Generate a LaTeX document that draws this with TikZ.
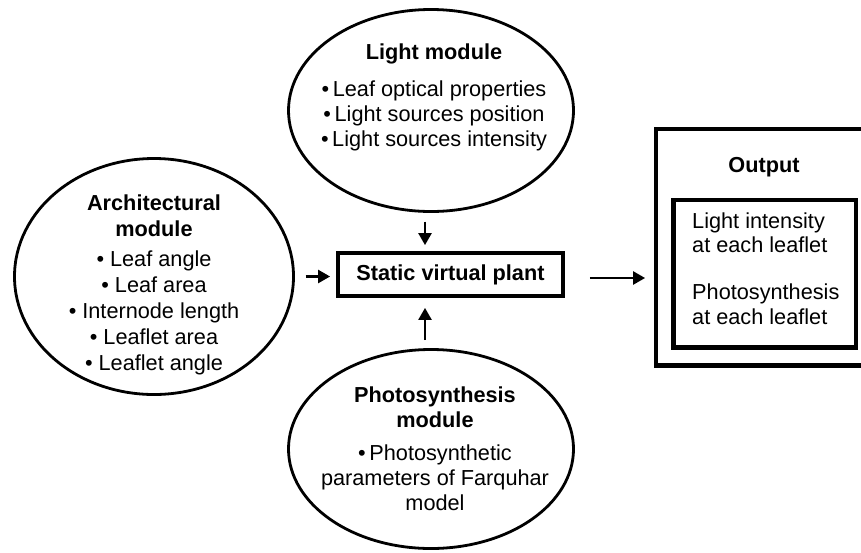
\documentclass[tikz,border=0pt]{standalone}
\usepackage{fontspec}
\setmainfont{Liberation Sans}
\usetikzlibrary{shapes.geometric,arrows.meta,calc}
\begin{document}
\begin{tikzpicture}[x=1pt,y=-1pt,
  ell/.style={draw, ellipse, line width=2.8pt, inner sep=0pt},
  txt/.style={align=center, font=\fontsize{21.7}{25}\selectfont, inner sep=0pt},
  boxy/.style={draw, rectangle, line width=4.8pt, inner sep=0pt},
  arr/.style={-{Triangle[length=12pt,width=13pt]}, line width=2.4pt}]
\useasboundingbox (0,0) rectangle (861,552);
% ellipses
\node[ell, minimum width=285pt, minimum height=202pt] (light) at (431,110.5) {};
\node[ell, minimum width=279pt, minimum height=236pt] (arch) at (154,276.5) {};
\node[ell, minimum width=285pt, minimum height=199pt] (photo) at (431,449) {};
% texts in ellipses
\node[txt, anchor=north] (lighttxt) at (434,44)
  {\textbf{Light module}\\[12pt]
   •\,Leaf optical properties\\
   •\,Light sources position\\
   •\,Light sources intensity};
\node[txt, anchor=north, font=\fontsize{21.7}{26}\selectfont] (archtxt) at (154,195)
  {\textbf{Architectural}\\
   \textbf{module}\\[4pt]
   • Leaf angle\\
   • Leaf area\\
   • Internode length\\
   • Leaflet area\\
   • Leaflet angle};
\node[txt, anchor=north] (phototxt) at (435,387)
  {\textbf{Photosynthesis}\\
   \textbf{module}\\[8pt]
   •\,Photosynthetic\\
   parameters of Farquhar\\
   model};
% central box
\node[boxy, minimum width=225pt, minimum height=43pt,
      font=\fontsize{21.7}{25}\selectfont\bfseries] (box) at (450.5,274.5) {Static virtual plant};
% output boxes
\node[boxy, minimum width=210pt, minimum height=236.5pt] (out) at (761,247.25) {};
\node[boxy, minimum width=182.5pt, minimum height=147.5pt] (inner) at (764.75,273.75) {};
\node[txt, font=\fontsize{21.7}{25}\selectfont\bfseries, anchor=base] (outtitle) at (764,172) {Output};
\node[txt, align=left, anchor=base west] (res1) at (692,228) {Light intensity};
\node[txt, align=left, anchor=base west] (res2) at (692,252) {at each leaflet};
\node[txt, align=left, anchor=base west] (res3) at (692,299) {Photosynthesis};
\node[txt, align=left, anchor=base west] (res4) at (692,324) {at each leaflet};
% connectors
\coordinate (ax) at (425,0);
\coordinate (ry) at (0,278);
\draw[arr, shorten <=8.6pt, shorten >=5.5pt] (light.south -| ax) -- (box.north -| ax);
\draw[arr, shorten <=8pt, shorten >=9.5pt] (photo.north -| ax) -- (box.south -| ax);
\draw[arr, shorten <=10.6pt, shorten >=5.5pt] (arch.east) -- (box.west |- arch.east);
\draw[arr, shorten <=24.5pt, shorten >=8.5pt] (box.east |- ry) -- (out.west |- ry);
\end{tikzpicture}
\end{document}
